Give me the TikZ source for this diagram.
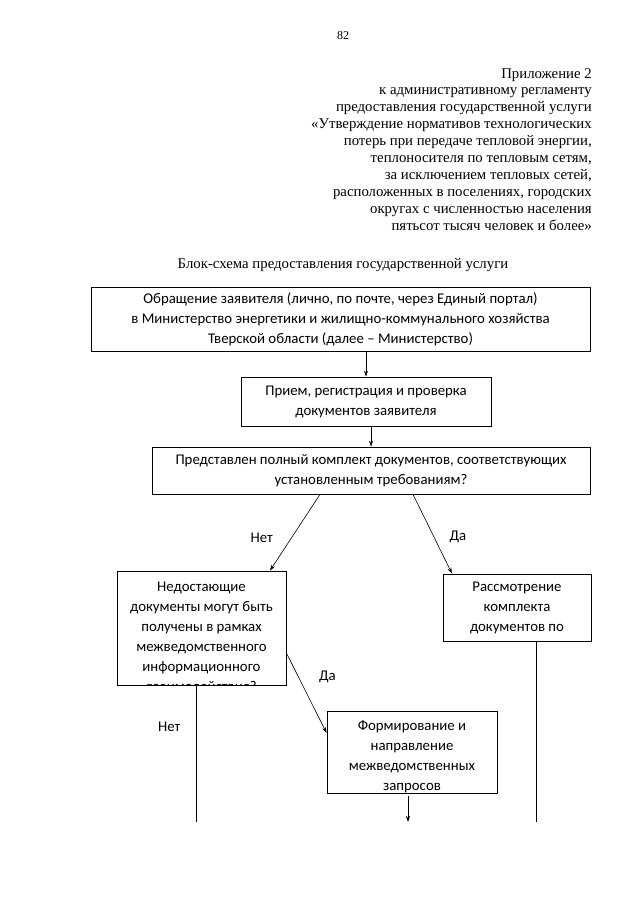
\documentclass[tikz,border=0pt]{standalone}
\usepackage{fontspec}
\setmainfont{Liberation Serif}
\newfontfamily\calibri{Carlito}
\usetikzlibrary{arrows.meta, positioning}

\begin{document}
\begin{tikzpicture}[x=1pt, y=-1pt,
    box/.style={draw, line width=0.8pt, align=center, inner sep=2pt, font=\calibri\fontsize{14.8}{20}\selectfont},
    lbl/.style={font=\calibri\fontsize{14.8}{20}\selectfont},
    >={Stealth[length=6pt, width=4pt]}]
  \useasboundingbox (0,0) rectangle (640,899);

  % header
  \node (page) at (343,36) {\fontsize{12}{14}\selectfont 82};
  \node[anchor=north east, align=right, inner sep=0pt, font=\fontsize{14.8}{16.9}\selectfont] (annex) at (592,68) {Приложение 2\\
    к административному регламенту\\
    предоставления государственной услуги\\
    «Утверждение нормативов технологических\\
    потерь при передаче тепловой энергии,\\
    теплоносителя по тепловым сетям,\\
    за исключением тепловых сетей,\\
    расположенных в поселениях, городских\\
    округах с численностью населения\\
    пятьсот тысяч человек и более»};
  \node[font=\fontsize{14.8}{16.9}\selectfont] (title) at (343,265) {Блок-схема предоставления государственной услуги};

  % boxes
  \node[box, minimum width=499, minimum height=64] (appeal) at (340.5,319) {Обращение заявителя (лично, по почте, через Единый портал)\\
    в Министерство энергетики и жилищно-коммунального хозяйства\\
    Тверской области (далее – Министерство)};
  \node[box, minimum width=250, minimum height=49] (check) at (366,401.5) {Прием, регистрация и проверка\\ документов заявителя};
  \node[box, minimum width=438, minimum height=47] (full) at (371,470.5) {Представлен полный комплект документов, соответствующих\\ установленным требованиям?};
  \node[box, minimum width=148, minimum height=67] (review) at (517,607.5) {Рассмотрение\\ комплекта\\ документов по};

  \node[box, minimum width=169, minimum height=114] (lack) at (201.5,628) {};
  \begin{scope}
    \clip (lack.south west) rectangle (lack.north east);
    \node[lbl, align=center, anchor=north, inner sep=0pt] (lacktext) at ([yshift=-11]lack.north) {Недостающие\\ документы могут быть\\ получены в рамках\\ межведомственного\\ информационного\\ взаимодействия?};
  \end{scope}

  \node[box, minimum width=170, minimum height=82] (query) at (412,752) {};
  \begin{scope}
    \clip (query.south west) rectangle (query.north east);
    \node[lbl, align=center, anchor=north, inner sep=0pt] (querytext) at ([yshift=-10]query.north) {Формирование и\\ направление\\ межведомственных\\ запросов};
  \end{scope}

  \coordinate (lackend) at (196,822);
  \coordinate (reviewend) at (536,822);
  \coordinate (queryend) at (408,822);

  \draw[line width=0.6pt]
  (appeal.south -| check.north) edge[->] (check.north)
  (check.south -| full.north) edge[->] (full.north)
  ([xshift=-51]full.south) edge[->] node[lbl, pos=0.57, left=15pt] {Нет} ([xshift=68.5]lack.north)
  ([xshift=42]full.south) edge[->] node[lbl, pos=0.54, right=12pt] {Да} ([xshift=-65]review.north)
  ([yshift=-25]lack.east) edge[->] node[lbl, pos=0.3, right=17pt] {Да} ([yshift=19]query.west)
  (lackend |- lack.south) edge node[lbl, pos=0.3, left=12pt] {Нет} (lackend)
  (reviewend |- review.south) edge (reviewend)
  ([yshift=-3]queryend |- query.south) edge[->] (queryend);
\end{tikzpicture}
\end{document}
